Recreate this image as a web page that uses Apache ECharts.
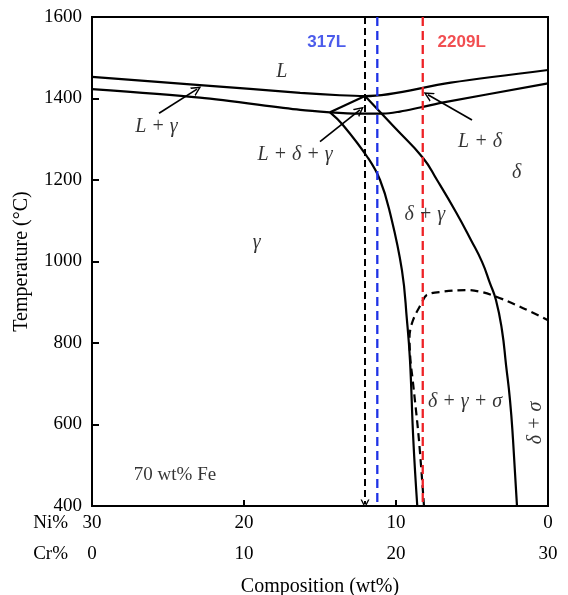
<!DOCTYPE html>
<html><head><meta charset="utf-8">
<script src="https://cdn.jsdelivr.net/npm/echarts@6/dist/echarts.min.js"></script>
<style>html,body{margin:0;padding:0;background:#fff}#c{width:568px;height:595px}</style>
</head><body><div id="c"></div>
<script>
// ---- data (x = Cr wt%, y = Temperature °C; Ni = 30 - Cr) ----
const crTicks = [0, 10, 20, 30];
const niTicks = [30, 20, 10, 0];
const tempTicks = [400, 600, 800, 1000, 1200, 1400, 1600];

const liquidusUpper = [[0,1453],[7.1,1433],[13.7,1414],[16.3,1408],[17.96,1406],[23.6,1439],[30,1470]];
const solidusGamma  = [[0,1423],[7.1,1402],[13.7,1372],[15.66,1366]];
const triangleEdge  = [[15.66,1366],[17.96,1406]];
const solidusDelta  = [[15.66,1366],[17.63,1363],[19.14,1363],[20.26,1368],[21.58,1378],[23.22,1391],[30,1437]];
const gammaSolvus   = [[15.66,1366],[16.51,1335],[18.16,1254],[18.95,1200],[19.61,1119],[20.39,979],[20.72,856],[20.92,758],[21.14,562],[21.40,400]];
const deltaSolvus   = [[17.96,1406],[19.93,1328],[21.78,1254],[22.70,1200],[23.95,1121],[24.93,1053],[25.66,999],[26.18,947],[26.58,905],[26.97,832],[27.24,746],[27.50,660],[27.70,562],[27.96,400]];
const sigmaSolvus   = [[21.84,400],[21.51,562],[21.10,709],[20.95,758],[20.89,815],[21.12,856],[21.69,898],[22.02,918],[23.09,926],[24.65,930],[25.53,926],[26.51,915],[28.16,889],[30,856]];

const solidifyCr = 17.96;          // black dashed arrow composition
const solidifyEndT = 405;
const alloyNames = ['317L', '2209L'];
const alloyCr = [18.77, 21.76];

// phase-field annotations: [text, Cr, T, rotation]
const phaseLabels = [
  ['L', 12.48, 1466, 0],
  ['L + γ', 4.24, 1330, 0],
  ['L + δ + γ', 13.36, 1261, 0],
  ['L + δ', 25.53, 1293, 0],
  ['δ', 27.94, 1217, 0],
  ['δ + γ', 21.9, 1114, 0],
  ['γ', 10.84, 1045, 0],
  ['δ + γ + σ', 24.54, 656, 0],
  ['δ + σ', 29.2, 604, 90]
];
const noteLabel = ['70 wt% Fe', 5.46, 476];
const alloyLabelPos = [[15.44, 1539], [24.32, 1539]];
// annotation arrows: [[fromCr, fromT], [toCr, toT]]
const labelArrows = [
  [[4.41,1364],[6.91,1423]],
  [[15.0,1294],[17.63,1372]],
  [[25.0,1347],[22.1,1409]]
];

// ---- chart ----
const chart = echarts.init(document.getElementById('c'), null, { renderer: 'canvas' });
const SERIF = "'Liberation Serif','Times New Roman',serif";
const SANS = "'Liberation Sans',Arial,sans-serif";
const alloyColors = ['#1e32e6', '#ee2226'];
const chevron = 'path://M0,10 L5,0 L10,10 L8.4,10 L5,3.2 L1.6,10 Z';

const curve = (data, smooth) => ({
  type: 'line', data, symbol: 'none', smooth: smooth,
  lineStyle: { color: '#000', width: 2.2 }, z: 3, silent: true
});

const series = [
  curve(liquidusUpper, 0.35),
  curve(solidusGamma, 0.3),
  curve(triangleEdge, false),
  curve(solidusDelta, 0.35),
  curve(gammaSolvus, 0.45),
  curve(deltaSolvus, 0.5),
  {
    type: 'line', data: sigmaSolvus, symbol: 'none', smooth: 0.35, silent: true,
    lineStyle: { color: '#000', width: 2.2, type: [8, 5] }, z: 3
  }
];

alloyNames.forEach((n, i) => {
  series.push({
    type: 'line', symbol: 'none', silent: true, z: 4,
    data: [[alloyCr[i], 1600], [alloyCr[i], 400]],
    lineStyle: { color: alloyColors[i], width: 2.3, type: [9, 5] }
  });
});

series.push({
  type: 'lines', coordinateSystem: 'cartesian2d', silent: true, z: 4,
  symbol: ['none', chevron], symbolSize: [10, 9],
  lineStyle: { color: '#000', width: 2, type: [7, 4], opacity: 1 },
  data: [{ coords: [[solidifyCr, 1600], [solidifyCr, solidifyEndT]] }]
});

series.push({
  type: 'lines', coordinateSystem: 'cartesian2d', silent: true, z: 4,
  symbol: ['none', chevron], symbolSize: [10, 10],
  lineStyle: { color: '#000', width: 1.7, opacity: 1 },
  data: labelArrows.map(a => ({ coords: a }))
});

series.push({
  type: 'scatter', symbolSize: 0.01, silent: true, z: 5,
  itemStyle: { color: 'rgba(0,0,0,0)' },
  label: {
    show: true, position: 'inside', color: '#000',
    fontFamily: SERIF, fontSize: 20, fontStyle: 'italic',
    formatter: p => p.name
  },
  data: phaseLabels.map(d => ({ name: d[0], value: [d[1], d[2]], label: { rotate: d[3] } }))
});

series.push({
  type: 'scatter', symbolSize: 0.01, silent: true, z: 5,
  itemStyle: { color: 'rgba(0,0,0,0)' },
  label: { show: true, position: 'inside', color: '#000', fontFamily: SERIF, fontSize: 19, formatter: p => p.name },
  data: [{ name: noteLabel[0], value: [noteLabel[1], noteLabel[2]] }]
});

series.push({
  type: 'scatter', symbolSize: 0.01, silent: true, z: 5,
  itemStyle: { color: 'rgba(0,0,0,0)' },
  label: { show: true, position: 'inside', fontFamily: SANS, fontSize: 17, fontWeight: 'bold', formatter: p => p.name },
  data: alloyNames.map((n, i) => ({ name: n, value: alloyLabelPos[i], label: { color: alloyColors[i] } }))
});

series.forEach(s => { s.xAxisIndex = 0; s.yAxisIndex = 0; });

const option = {
  animation: false,
  backgroundColor: '#fff',
  grid: { left: 92, top: 17, right: 20, bottom: 89, outerBoundsMode: 'none', containLabel: false,
    show: true, borderColor: '#000', borderWidth: 2, backgroundColor: 'transparent' },
  xAxis: [
    {
      // Cr% axis (data axis), drawn in the second label row
      type: 'value', min: 0, max: 30, interval: 10, position: 'bottom', offset: 31,
      axisLine: { show: false }, axisTick: { show: false },
      axisLabel: { margin: 8, color: '#000', fontFamily: SERIF, fontSize: 19,
        formatter: v => crTicks.includes(v) ? String(v) : '' },
      splitLine: { show: false },
      name: 'Composition (wt%)', nameLocation: 'middle', nameGap: 40,
      nameTextStyle: { color: '#000', fontFamily: SERIF, fontSize: 20 }
    },
    {
      // Ni% axis (Ni = 30 - Cr), first label row
      type: 'value', min: 0, max: 30, interval: 10, inverse: true, position: 'bottom',
      axisLine: { show: true, onZero: false, lineStyle: { color: '#000', width: 2 } },
      axisTick: { show: true, inside: true, length: 6, lineStyle: { color: '#000', width: 2 } },
      axisLabel: { margin: 8, color: '#000', fontFamily: SERIF, fontSize: 19,
        formatter: v => niTicks.includes(v) ? String(v) : '' },
      splitLine: { show: false }
    }
  ],
  yAxis: {
    type: 'value', min: 400, max: 1600, interval: 200,
    axisLine: { show: true, onZero: false, lineStyle: { color: '#000', width: 2 } },
    axisTick: { show: true, inside: true, length: 7, lineStyle: { color: '#000', width: 2 } },
    axisLabel: { margin: 10, color: '#000', fontFamily: SERIF, fontSize: 19,
      formatter: v => tempTicks.includes(v) ? String(v) : '' },
    splitLine: { show: false },
    name: 'Temperature (°C)', nameLocation: 'middle', nameGap: 60,
    nameTextStyle: { color: '#000', fontFamily: SERIF, fontSize: 20 }
  },
  graphic: [
    { type: 'text', right: 500, top: 514, style: { text: 'Ni%', fill: '#000', font: "19px 'Liberation Serif', serif" } },
    { type: 'text', right: 500, top: 545, style: { text: 'Cr%', fill: '#000', font: "19px 'Liberation Serif', serif" } }
  ],
  series
};
chart.setOption(option);
</script></body></html>
